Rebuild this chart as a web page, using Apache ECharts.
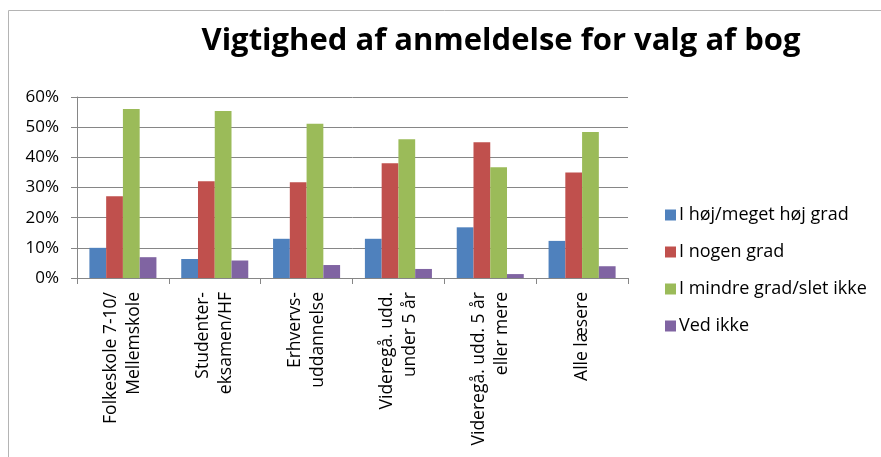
<!DOCTYPE html>
<html>
<head>
<meta charset="utf-8">
<script src="https://cdn.jsdelivr.net/npm/echarts@6/dist/echarts.min.js"></script>
<style>
  html, body { margin: 0; padding: 0; background: #fff; }
  #main { width: 881px; height: 457px; }
</style>
</head>
<body>
<div id="main"></div>
<script>
// data (percent)
var categories = ['Folkeskole 7-10/\nMellemskole', 'Studenter-\neksamen/HF', 'Erhvervs-\nuddannelse',
    'Videregå. udd.\nunder 5 år', 'Videregå. udd. 5 år\neller mere', 'Alle læsere'];
var seriesNames = ['I høj/meget høj grad', 'I nogen grad', 'I mindre grad/slet ikke', 'Ved ikke'];
var hoej = [10, 6.3, 13, 13, 16.8, 12.3];
var nogen = [27.1, 32.1, 31.7, 38, 45, 35];
var mindre = [56, 55.4, 51.1, 46, 36.7, 48.4];
var vedIkke = [6.9, 5.8, 4.3, 3, 1.3, 3.9];
var yTicks = [0, 10, 20, 30, 40, 50, 60];

var colors = ['#4F81BD', '#C0504D', '#9BBB59', '#8064A2'];
var font = 'Open Sans';

var chart = echarts.init(document.getElementById('main'));

var values = [hoej, nogen, mindre, vedIkke];
var series = [];
for (var i = 0; i < values.length; i++) {
    series.push({
        name: seriesNames[i],
        type: 'bar',
        data: values[i],
        barGap: '0%',
        barCategoryGap: '27%',
        itemStyle: { color: colors[i] }
    });
}

var option = {
    animation: false,
    color: colors,
    title: {
        text: 'Vigtighed af anmeldelse for valg af bog',
        left: 496,
        top: 21,
        textAlign: 'center',
        textStyle: { fontFamily: font, fontWeight: 'bold', fontSize: 31, color: '#000' }
    },
    legend: {
        orient: 'vertical',
        left: 660,
        top: 200,
        itemWidth: 11,
        itemHeight: 11,
        itemGap: 17,
        icon: 'rect',
        data: seriesNames,
        textStyle: { fontFamily: font, fontSize: 18, lineHeight: 20, color: '#000', padding: [0, 0, 0, -2] }
    },
    grid: { left: 77, right: 253, top: 97, bottom: 179, containLabel: false },
    xAxis: {
        type: 'category',
        data: categories,
        axisLine: { lineStyle: { color: '#868686' } },
        axisTick: { show: true, length: 6, lineStyle: { color: '#868686' } },
        axisLabel: {
            rotate: 90,
            interval: 0,
            margin: 14,
            fontFamily: font,
            fontSize: 17.5,
            lineHeight: 23,
            color: '#000'
        }
    },
    yAxis: {
        type: 'value',
        min: 0,
        max: 60,
        interval: 10,
        axisLine: { show: true, lineStyle: { color: '#868686' } },
        axisTick: { show: true, length: 6, lineStyle: { color: '#868686' } },
        splitLine: { lineStyle: { color: '#868686' } },
        axisLabel: {
            margin: 18,
            fontFamily: font,
            fontSize: 17,
            color: '#000',
            formatter: function (v) { return yTicks.indexOf(v) >= 0 ? v + '%' : ''; }
        }
    },
    graphic: [
        { type: 'line', shape: { x1: 8.5, y1: 10.5, x2: 881, y2: 10.5 }, style: { stroke: '#b4b4b4', lineWidth: 1 } },
        { type: 'line', shape: { x1: 8.5, y1: 10.5, x2: 8.5, y2: 457 }, style: { stroke: '#b4b4b4', lineWidth: 1 } }
    ],
    series: series
};

chart.setOption(option);
</script>
</body>
</html>
